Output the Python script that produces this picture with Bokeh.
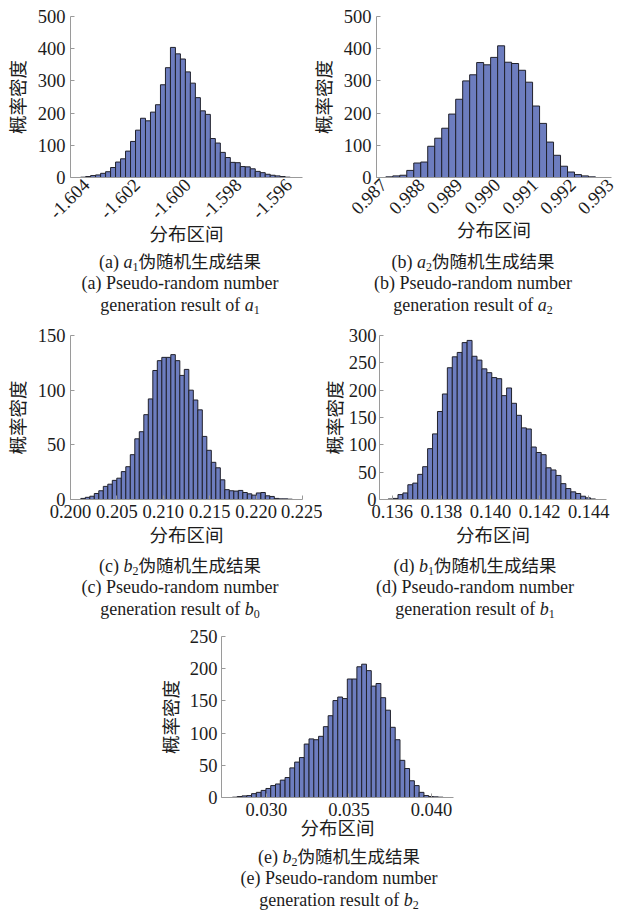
import math
from bokeh.plotting import figure
from bokeh.models import FixedTicker, NumeralTickFormatter, Range1d, LinearAxis, Div
from bokeh.layouts import column, row
from bokeh.embed import file_html
from bokeh.resources import INLINE

# ---- histogram data (density per bin) ----
a1_counts = [1, 3, 6, 8, 13, 18, 31, 48, 58, 82, 112, 147, 184, 176, 203, 226, 288, 341,
             404, 384, 368, 328, 293, 248, 207, 196, 121, 107, 78, 62, 47, 46, 34, 33, 27,
             19, 15, 10, 7, 5, 3, 1]
a1_bin_start, a1_bin_width = -1.60394, 0.000197

a2_counts = [2, 5, 7, 22, 45, 48, 97, 122, 153, 197, 243, 300, 319, 357, 350, 373, 409,
             358, 354, 333, 296, 222, 168, 110, 69, 35, 17, 9, 5, 2]
a2_bin_start, a2_bin_width = 0.987246, 0.000185

b0_counts = [1, 2, 3, 5.5, 8, 12, 14, 17.5, 19.5, 25.5, 30, 41, 55.5, 62, 77.6, 92, 118,
             127, 130, 130, 132.5, 127, 113.5, 119, 100, 91, 82, 57.7, 45, 34, 29, 18, 9,
             8, 7.7, 8.3, 6.4, 5.2, 4, 6, 6.4, 3.4, 2.8, 1, 0.6, 0.6, 0.3]
b0_bin_start, b0_bin_width = 0.20111, 0.000485

b1_counts = [1, 2, 9, 12, 27, 30, 46, 60, 93, 120, 161, 193, 241, 261, 269, 287, 291, 262,
             255, 239, 232, 223, 221, 190, 204, 176, 154, 131, 129, 96, 86, 82, 58, 54, 44,
             29, 20, 14, 11, 6, 3, 1]
b1_bin_start, b1_bin_width = 0.13583, 0.000201

b2_counts = [0.5, 1.5, 2.5, 3, 6, 8, 11, 14, 18.5, 21, 27, 31, 46, 55, 62, 83, 91, 89.7, 95,
             110, 127, 150.5, 156, 153.6, 184, 184, 203, 207, 197, 173, 177, 155, 135.6,
             109, 89.7, 57.7, 45, 26, 18.5, 8, 3, 1.5, 1, 0.5]
b2_bin_start, b2_bin_width = 0.02794, 0.00029

# axis ticks
a1_xticks = [-1.604, -1.602, -1.600, -1.598, -1.596]
a2_xticks = [0.987, 0.988, 0.989, 0.990, 0.991, 0.992, 0.993]
b0_xticks = [0.200, 0.205, 0.210, 0.215, 0.220, 0.225]
b1_xticks = [0.136, 0.138, 0.140, 0.142, 0.144]
b2_xticks = [0.030, 0.035, 0.040]
a_yticks = [0, 100, 200, 300, 400, 500]
b0_yticks = [0, 50, 100, 150]
b1_yticks = [0, 50, 100, 150, 200, 250, 300]
b2_yticks = [0, 50, 100, 150, 200, 250]

# text
ylabel = "概率密度"
xlabel = "分布区间"
cn_suffix = "伪随机生成结果"
en_line2 = "Pseudo-random number"
en_line3 = "generation result of"

LATIN = "Liberation Serif, Noto Sans CJK SC"
TICK_PX = "18.5px"
BAR_FILL = "#6d7dbf"
BAR_LINE = "#20212b"
AXIS_GREY = "#9a9a9a"
TEXT = "#1c1c1c"


def style_axis(ax, ticks):
    ax.ticker = FixedTicker(ticks=ticks)
    ax.minor_tick_line_color = None
    ax.axis_line_color = AXIS_GREY
    ax.major_tick_line_color = AXIS_GREY
    ax.major_tick_in = 4
    ax.major_tick_out = 0
    ax.major_label_text_font = LATIN
    ax.major_label_text_font_size = TICK_PX
    ax.major_label_text_color = TEXT
    ax.axis_label_text_font = LATIN
    ax.axis_label_text_font_size = TICK_PX
    ax.axis_label_text_font_style = "normal"
    ax.axis_label_text_color = TEXT


def panel(width, height, left, right, top, bottom, xr, yr, xticks, yticks,
          counts, start, step, ylab_gap, xlab_gap, tick_gap=5, rotated_shift=None):
    p = figure(width=width, height=height, x_range=Range1d(*xr), y_range=Range1d(*yr),
               output_backend="svg", toolbar_location=None,
               x_axis_location=None if rotated_shift is not None else "below",
               min_border_left=left, min_border_right=right,
               min_border_top=top, min_border_bottom=bottom)
    p.outline_line_color = None
    p.grid.visible = False
    p.background_fill_color = "white"
    p.border_fill_color = "white"

    lefts = [start + i * step for i in range(len(counts))]
    rights = [start + (i + 1) * step for i in range(len(counts))]
    p.quad(left=lefts, right=rights, bottom=0, top=counts,
           fill_color=BAR_FILL, line_color=BAR_LINE, line_width=1)

    yax = p.yaxis[0]
    style_axis(yax, yticks)
    yax.formatter = NumeralTickFormatter(format="0")
    yax.major_label_standoff = tick_gap
    yax.axis_label = ylabel
    yax.axis_label_standoff = ylab_gap

    if rotated_shift is None:
        xax = p.xaxis[0]
        style_axis(xax, xticks)
        xax.major_label_standoff = 5
    else:
        # slanted tick labels sit a little to the right of their tick value
        span = xr[1] - xr[0]
        fw = width - left - right
        d = rotated_shift / fw * span
        p.extra_x_ranges = {"labels": Range1d(xr[0] - d, xr[1] - d)}
        xax = LinearAxis(x_range_name="labels")
        style_axis(xax, xticks)
        xax.major_tick_line_color = None
        xax.major_label_orientation = math.pi / 4
        xax.major_label_standoff = 4
        p.add_layout(xax, "below")
    xax.formatter = NumeralTickFormatter(format="0.000")
    xax.axis_label = xlabel
    xax.axis_label_standoff = xlab_gap
    return p


def caption(width, height, cx, tag, var, cn_sub, en_sub, pad_top=0):
    dx = cx - width / 2

    def sym(sub):
        return (f'<i>{var}</i><span style="font-size:12px; position:relative; top:3px">'
                f'{sub}</span>')

    def line_css(h):
        return f"height:{h}px; line-height:{h}px; white-space:nowrap;"

    html = (
        f'<div style="position:relative; left:{dx:.1f}px; top:{pad_top}px; width:{width}px; '
        f'text-align:center; font-family:\'Liberation Serif\',\'Noto Sans CJK SC\',serif; '
        f'font-size:18px; color:{TEXT};">'
        f'<div style="{line_css(23)}">({tag}) {sym(cn_sub)}'
        f'<span style="font-family:\'Noto Sans CJK SC\'; font-size:17.5px">{cn_suffix}</span></div>'
        f'<div style="{line_css(22)}">({tag}) {en_line2}</div>'
        f'<div style="{line_css(22)}">{en_line3} {sym(en_sub)}</div>'
        f'</div>'
    )
    return Div(text=html, width=width, height=height, margin=(0, 0, 0, 0))


# ---- row 1 ----
pa = panel(311, 251, 70, 9, 16, 74, (-1.60434, -1.59518), (0, 500),
           a1_xticks, a_yticks, a1_counts, a1_bin_start, a1_bin_width,
           ylab_gap=6, xlab_gap=-2, rotated_shift=7)
pb = panel(312, 251, 65, 12, 16, 74, (0.987, 0.99322), (0, 500),
           a2_xticks, a_yticks, a2_counts, a2_bin_start, a2_bin_width,
           ylab_gap=6, xlab_gap=-2, rotated_shift=7)
ca = caption(311, 69, 180, "a", "a", "1", "1", pad_top=-2)
cb = caption(312, 69, 162, "b", "a", "2", "2", pad_top=-2)

# ---- row 2 ----
pc = panel(322, 234, 70, 20, 15, 55, (0.200, 0.225), (0, 150),
           b0_xticks, b0_yticks, b0_counts, b0_bin_start, b0_bin_width,
           ylab_gap=6, xlab_gap=5)
pd = panel(301, 234, 54, 17, 15, 55, (0.13548, 0.14472), (0, 300),
           b1_xticks, b1_yticks, b1_counts, b1_bin_start, b1_bin_width,
           ylab_gap=0, xlab_gap=5, tick_gap=3)
cc = caption(322, 66, 180, "c", "b", "2", "0", pad_top=-1)
cd = caption(301, 66, 153, "d", "b", "1", "1", pad_top=-1)

# ---- row 3 ----
pe = panel(623, 223, 221, 170, 16, 46, (0.02728, 0.04133), (0, 250),
           b2_xticks, b2_yticks, b2_counts, b2_bin_start, b2_bin_width,
           ylab_gap=5, xlab_gap=0, tick_gap=4)
ce = caption(623, 74, 339, "e", "b", "2", "2", pad_top=1)

page = column(
    row(column(pa, ca), column(pb, cb)),
    row(column(pc, cc), column(pd, cd)),
    column(pe, ce),
)

open("out.html", "w").write(file_html(page, INLINE))
